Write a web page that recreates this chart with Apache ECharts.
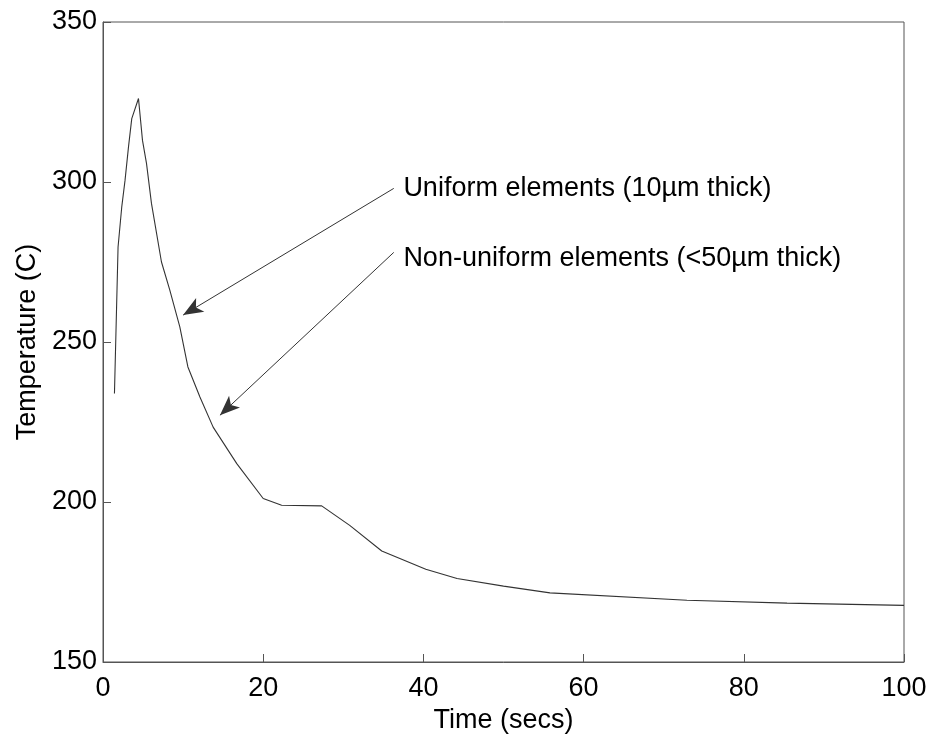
<!DOCTYPE html>
<html>
<head>
<meta charset="utf-8">
<script src="https://cdn.jsdelivr.net/npm/echarts@6/dist/echarts.min.js"></script>
<style>
html,body{margin:0;padding:0;background:#fff;}
#chart{width:933px;height:743px;}
</style>
</head>
<body>
<div id="chart"></div>
<script>
// Time (secs) and temperature (C)
var times = [1.43, 1.88, 2.34, 2.75, 3.18, 3.59, 4.43, 4.93, 5.43, 6.05, 7.3, 8.34, 9.59, 10.6, 12.1, 13.75, 16.7, 20.0, 22.3, 27.3, 30.8, 34.8, 40.3, 44.2, 50.0, 55.8, 72.9, 85.4, 100];
var temps = [233.9, 279.7, 292.2, 300.5, 310.9, 319.8, 326.1, 313.0, 305.8, 293.3, 275.0, 266.2, 254.7, 242.2, 232.8, 223.4, 212.0, 201.1, 199.0, 198.8, 192.7, 184.7, 179.0, 176.1, 173.7, 171.6, 169.3, 168.4, 167.7];

// Annotation texts, their anchor points and arrow start/tip points (data coordinates)
var noteTexts = ['Uniform elements (10\u00b5m thick)', 'Non-uniform elements (<50\u00b5m thick)'];
var noteAnchors = [[37.5, 298.0], [37.5, 276.2]];
var arrowStarts = [[36.3, 298.0], [36.3, 278.0]];
var arrowTips = [[10.0, 258.4], [14.6, 227.1]];

var xTicks = [0, 20, 40, 60, 80, 100];
var yTicks = [150, 200, 250, 300, 350];

var chart = echarts.init(document.getElementById('chart'), null, {renderer: 'canvas'});
var FONT = '"Liberation Sans", Arial, Helvetica, sans-serif';
var FS = 27;

var lineData = times.map(function (t, i) { return [t, temps[i]]; });
var noteData = noteTexts.map(function (s, i) { return {name: s, value: noteAnchors[i]}; });
var arrowData = arrowStarts.map(function (s, i) {
  return [{coord: s, symbol: 'none'}, {coord: arrowTips[i], symbol: 'arrow'}];
});

chart.setOption({
  animation: false,
  backgroundColor: '#ffffff',
  grid: {left: 103, right: 29, top: 22, bottom: 81, show: true, borderColor: '#555', borderWidth: 1},
  xAxis: {
    type: 'value', min: xTicks[0], max: xTicks[xTicks.length - 1], interval: 20,
    name: 'Time (secs)', nameLocation: 'middle', nameGap: 42,
    nameTextStyle: {fontFamily: FONT, fontSize: FS, color: '#000'},
    axisLine: {show: true, lineStyle: {color: '#555', width: 1}},
    axisTick: {show: true, inside: true, length: 8, lineStyle: {color: '#555'}},
    axisLabel: {fontFamily: FONT, fontSize: FS, color: '#000', margin: 13},
    splitLine: {show: false}
  },
  yAxis: {
    type: 'value', min: yTicks[0], max: yTicks[yTicks.length - 1], interval: 50,
    name: 'Temperature (C)', nameLocation: 'middle', nameGap: 60,
    nameTextStyle: {fontFamily: FONT, fontSize: FS, color: '#000'},
    axisLine: {show: true, lineStyle: {color: '#555', width: 1}},
    axisTick: {show: true, inside: true, length: 8, lineStyle: {color: '#555'}},
    axisLabel: {fontFamily: FONT, fontSize: FS, color: '#000', margin: 6},
    splitLine: {show: false}
  },
  series: [
    {
      type: 'line', data: lineData, symbol: 'none', smooth: false,
      lineStyle: {color: '#333', width: 1.1},
      markLine: {
        silent: true,
        symbolSize: [12, 20],
        label: {show: false},
        lineStyle: {color: '#333', width: 1, type: 'solid'},
        itemStyle: {color: '#000'},
        data: arrowData
      }
    },
    {
      type: 'scatter', data: noteData, symbolSize: 0, silent: true,
      itemStyle: {opacity: 1},
      label: {
        show: true, position: 'right', distance: 0,
        formatter: function (p) { return p.name; },
        fontFamily: FONT, fontSize: FS, color: '#000'
      }
    }
  ]
});
</script>
</body>
</html>
